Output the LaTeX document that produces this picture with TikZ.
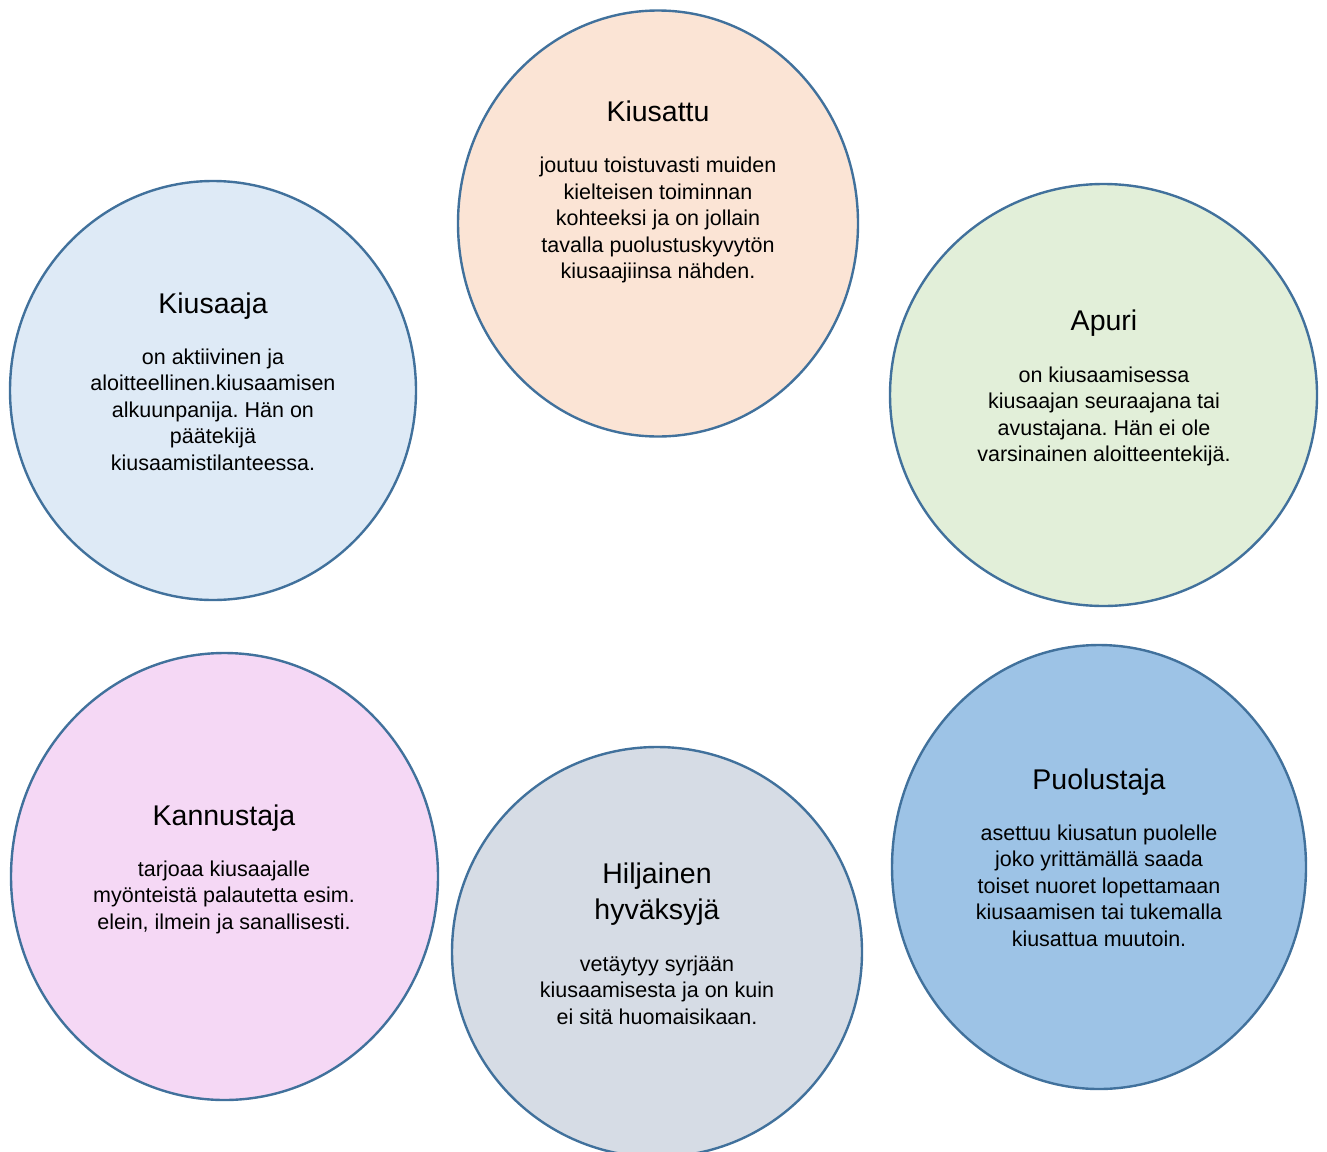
\documentclass[tikz,border=0pt]{standalone}
\usepackage{fontspec}
\setmainfont{Liberation Sans}
\frenchspacing
\newcommand{\mystr}{\rule[-0.23em]{0pt}{0.95em}}
\definecolor{edgeblue}{HTML}{41719C}
\definecolor{fpeach}{HTML}{FBE4D5}
\definecolor{fltblue}{HTML}{DEEAF6}
\definecolor{fgreen}{HTML}{E2EFD9}
\definecolor{fpink}{HTML}{F5D8F5}
\definecolor{fgrey}{HTML}{D6DCE5}
\definecolor{fmidblue}{HTML}{9DC3E6}
\tikzset{
  role/.style={draw=edgeblue, line width=2.4pt},
  ttl/.style={inner sep=0pt, align=center, font=\fontsize{28.5}{36}\selectfont},
  bodytext/.style={inner sep=0pt, align=center, font=\fontsize{21.5}{26.5}\selectfont},
}
\begin{document}
\begin{tikzpicture}[x=1pt,y=-1pt]
\useasboundingbox (0,0) rectangle (1327,1151);
\clip (0,0) rectangle (1327,1151);
% circles
\filldraw[role, fill=fpeach] (658,223.5) ellipse [x radius=200, y radius=213];
\filldraw[role, fill=fltblue] (213,390.5) ellipse [x radius=203, y radius=209.5];
\filldraw[role, fill=fgreen] (1103.5,395) ellipse [x radius=213.5, y radius=211];
\filldraw[role, fill=fpink] (224.5,876.5) ellipse [x radius=213.5, y radius=223.5];
\filldraw[role, fill=fgrey] (657,952) ellipse [x radius=205, y radius=205];
\filldraw[role, fill=fmidblue] (1099,867) ellipse [x radius=207, y radius=222];
% Kiusattu
\node[ttl] (t1) at (658,114) {\mystr Kiusattu\mystr};
\node[bodytext] (b1) at (658,220.5) {\mystr joutuu toistuvasti muiden\\kielteisen toiminnan\\kohteeksi ja on jollain\\tavalla puolustuskyvytön\\kiusaajiinsa nähden.\mystr};
% Kiusaaja
\node[ttl] (t2) at (213,306) {\mystr Kiusaaja\mystr};
\node[bodytext] (b2) at (213,412) {\mystr on aktiivinen ja\\aloitteellinen.kiusaamisen\\alkuunpanija. Hän on\\päätekijä\\kiusaamistilanteessa.\mystr};
% Apuri
\node[ttl] (t3) at (1104,323) {\mystr Apuri\mystr};
\node[bodytext] (b3) at (1104,416.5) {\mystr on kiusaamisessa\\kiusaajan seuraajana tai\\avustajana. Hän ei ole\\varsinainen aloitteentekijä.\mystr};
% Kannustaja
\node[ttl] (t4) at (224,818) {\mystr Kannustaja\mystr};
\node[bodytext] (b4) at (224,897.5) {\mystr tarjoaa kiusaajalle\\myönteistä palautetta esim.\\elein, ilmein ja sanallisesti.\mystr};
% Hiljainen hyvaksyja
\node[ttl] (t5) at (657,894) {\mystr Hiljainen\\hyväksyjä\mystr};
\node[bodytext] (b5) at (657,992.5) {\mystr vetäytyy syrjään\\kiusaamisesta ja on kuin\\ei sitä huomaisikaan.\mystr};
% Puolustaja
\node[ttl] (t6) at (1099,782) {\mystr Puolustaja\mystr};
\node[bodytext] (b6) at (1099,888) {\mystr asettuu kiusatun puolelle\\joko yrittämällä saada\\toiset nuoret lopettamaan\\kiusaamisen tai tukemalla\\kiusattua muutoin.\mystr};
\end{tikzpicture}
\end{document}
